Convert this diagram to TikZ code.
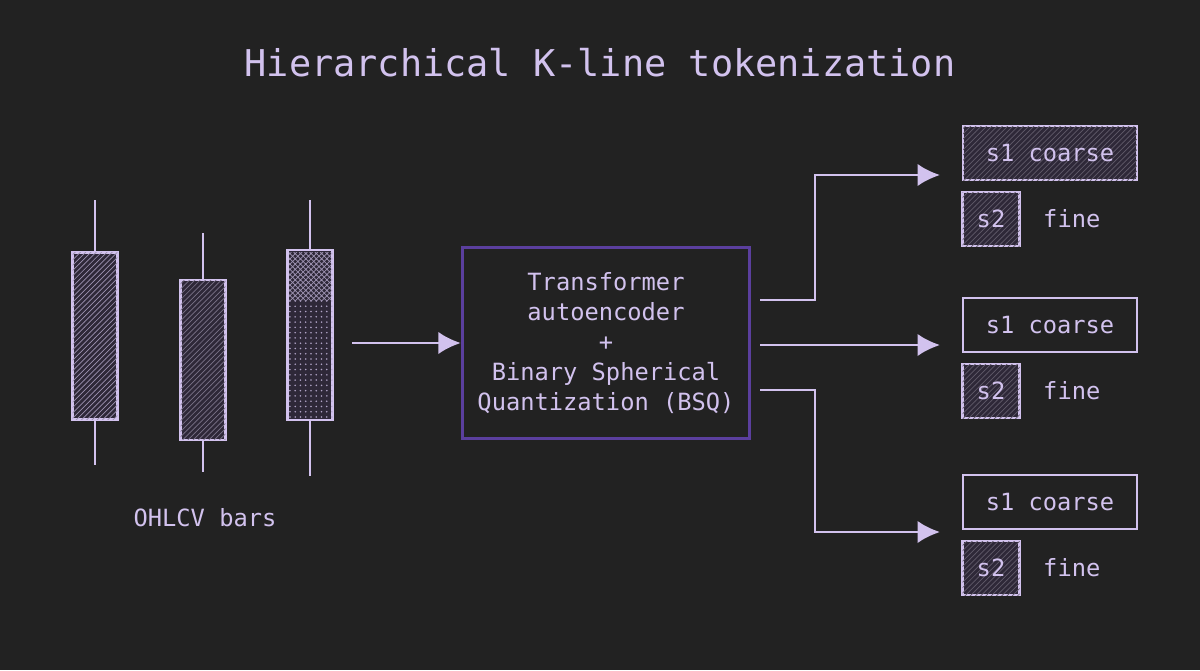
\documentclass[tikz,border=0pt]{standalone}
\usepackage{fontspec}
\setmonofont{DejaVu Sans Mono}
\usetikzlibrary{arrows.meta,patterns}
\definecolor{bgc}{HTML}{222222}
\definecolor{lav}{HTML}{D2C2EE}
\definecolor{deep}{HTML}{5B3F9E}
\definecolor{boxfill}{HTML}{2E2838}
\begin{document}
\begin{tikzpicture}
[
x=0.02cm, y=-0.02cm,
every node/.style={font=\ttfamily, text=lav},
candle/.style={draw=lav, line width=1.6pt, fill=boxfill, minimum width=0.9cm, inner sep=0pt},
tok/.style={draw=lav, line width=1.6pt, minimum height=1.08cm, inner sep=0pt, font=\ttfamily\fontsize{13.5}{16}\selectfont},
flow/.style={draw=lav, line width=1.6pt, -{Latex[length=4.5mm,width=4.5mm]}},
wick/.style={draw=lav, line width=1.6pt}
]
\fill[bgc] (0,0) rectangle (1200,670);

\node[font=\ttfamily\fontsize{21}{24}\selectfont] (title) at (600,63) {Hierarchical K-line tokenization};

% candles
\node[candle, minimum height=3.34cm, postaction={pattern=north east lines, pattern color=lav!70!bgc}] (c1) at (95,336) {};
\node[candle, minimum height=3.2cm, postaction={pattern=north east lines, pattern color=lav!50!bgc}] (c2) at (203,360) {};
\node[candle, minimum height=3.4cm, postaction={pattern=dots, pattern color=lav!80!bgc}] (c3) at (310,335) {};
\fill[pattern=crosshatch, pattern color=lav!70!bgc] (289,252) rectangle (331,300);
\draw[wick] (c1.north) -- (95,200) (c1.south) -- (95,465);
\draw[wick] (c2.north) -- (203,233) (c2.south) -- (203,472);
\draw[wick] (c3.north) -- (310,200) (c3.south) -- (310,476);
\node[font=\ttfamily\fontsize{13.5}{16}\selectfont] (bars) at (205,518) {OHLCV bars};

% encoder
\node[draw=deep, line width=2pt, minimum width=5.74cm, minimum height=3.82cm, align=center,
  font=\ttfamily\fontsize{13.5}{17.2}\selectfont] (enc) at (606,343)
  {Transformer\\autoencoder\\+\\Binary Spherical\\Quantization (BSQ)};
\coordinate (in) at (352,343);
\draw[flow] (in) -- (enc.west);

% tokens
\foreach \i/\y/\fl in {1/153/1, 2/325/0, 3/502/0} {
  \ifnum\fl=1
    \node[tok, minimum width=3.48cm, fill=boxfill, postaction={pattern=north east lines, pattern color=lav!35!bgc}] (s1\i) at (1050,\y) {};
    \node[font=\ttfamily\fontsize{13.5}{16}\selectfont] at (s1\i) {s1 coarse};
  \else
    \node[tok, minimum width=3.48cm] (s1\i) at (1050,\y) {s1 coarse};
  \fi
  \node[tok, minimum width=1.14cm, fill=boxfill, postaction={pattern=north east lines, pattern color=lav!35!bgc}] (s2\i) at (991,\y+66) {};
  \node[font=\ttfamily\fontsize{13.5}{16}\selectfont] at (s2\i) {s2};
  \node[font=\ttfamily\fontsize{13.5}{16}\selectfont, anchor=west] (f\i) at (1037,\y+66) {fine};
}
\coordinate (o1) at (760,300);
\coordinate (o2) at (760,345);
\coordinate (o3) at (760,390);
\draw[flow] (o1) -- (815,300) -- (815,175) -- (940,175);
\draw[flow] (o2) -- (940,345);
\draw[flow] (o3) -- (815,390) -- (815,532) -- (940,532);
\end{tikzpicture}
\end{document}
